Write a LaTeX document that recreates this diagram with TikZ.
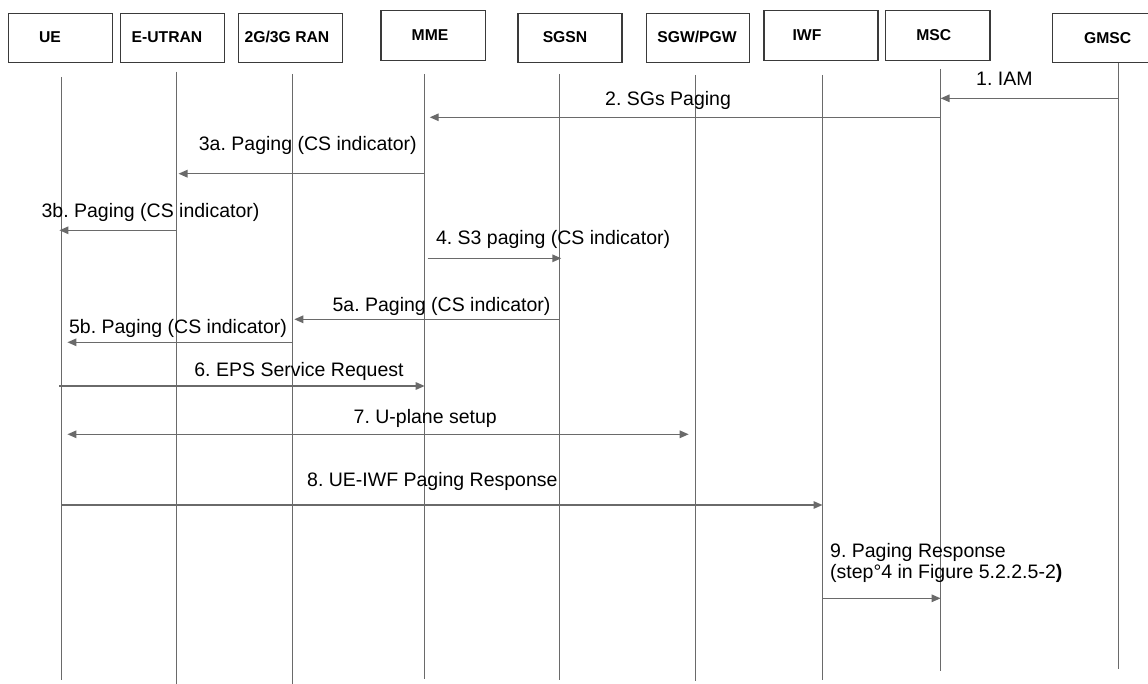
\documentclass[tikz,border=0pt]{standalone}
\usepackage{fontspec}
\setmainfont{Liberation Sans}
\usetikzlibrary{arrows.meta}
\frenchspacing

\definecolor{linegray}{HTML}{6A6A6A}
\definecolor{boxline}{HTML}{3A3A3A}

\tikzset{
  entity/.style={draw=boxline, line width=1.2pt, fill=white, inner sep=0pt},
  entitytext/.style={inner sep=0pt, anchor=base, font=\bfseries\fontsize{15.7}{18}\selectfont},
  lifeline/.style={draw=linegray, line width=1.3pt},
  msg/.style={draw=linegray, line width=1.4pt, -{Triangle[length=9pt,width=7.5pt]}, color=linegray},
  msgboth/.style={draw=linegray, line width=1.4pt, {Triangle[length=9pt,width=7.5pt]}-{Triangle[length=9pt,width=7.5pt]}, color=linegray},
  msgtext/.style={inner sep=0pt, anchor=base west, font=\fontsize{19.5}{21}\selectfont, text=black},
}

\begin{document}
\begin{tikzpicture}[x=1pt, y=-1pt]
\useasboundingbox (0,0) rectangle (1148,684);

% entity boxes
\node[entity, minimum width=104.4pt, minimum height=49.4pt] (ueB)   at (60.3,38) {};
\node[entity, minimum width=104pt,   minimum height=49.4pt] (eutB)  at (172.7,38) {};
\node[entity, minimum width=104.3pt, minimum height=49.4pt] (ranB)  at (290.5,38) {};
\node[entity, minimum width=104.4pt, minimum height=50pt]   (mmeB)  at (433.2,35.7) {};
\node[entity, minimum width=104pt,   minimum height=49.4pt] (sgsnB) at (570,38) {};
\node[entity, minimum width=103.5pt, minimum height=49.4pt] (gwB)   at (698,38) {};
\node[entity, minimum width=114pt,   minimum height=50pt]   (iwfB)  at (821,35.7) {};
\node[entity, minimum width=104.5pt, minimum height=50pt]   (mscB)  at (937.8,35.7) {};
\node[entity, minimum width=100pt,   minimum height=49.4pt] (gmscB) at (1102.7,38) {};

\node[entitytext] (ueL)   at (50,42.7)    {UE};
\node[entitytext] (eutL)  at (167,43)     {E-UTRAN};
\node[entitytext] (ranL)  at (287,43)     {2G/3G RAN};
\node[entitytext] (mmeL)  at (430,40.7)   {MME};
\node[entitytext] (sgsnL) at (565,43)     {SGSN};
\node[entitytext] (gwL)   at (697,43)     {SGW/PGW};
\node[entitytext] (iwfL)  at (807,40.7)   {IWF};
\node[entitytext] (mscL)  at (933.7,40.7) {MSC};
\node[entitytext] (gmscL) at (1107.7,43.3) {GMSC};

% lifelines
\coordinate (ue)   at (61.4,77);    \coordinate (ueE)   at (61.4,680);
\coordinate (eut)  at (176.5,71.7); \coordinate (eutE)  at (176.5,684);
\coordinate (ran)  at (292.3,74);   \coordinate (ranE)  at (292.3,684);
\coordinate (mme)  at (424.7,74);   \coordinate (mmeE)  at (424.7,679);
\coordinate (sgsn) at (559.3,74);   \coordinate (sgsnE) at (559.3,680);
\coordinate (gw)   at (695.7,75);   \coordinate (gwE)   at (695.7,681);
\coordinate (iwf)  at (822.5,75);   \coordinate (iwfE)  at (822.5,680);
\coordinate (msc)  at (940.6,69);   \coordinate (mscE)  at (940.6,671);
\coordinate (gmsc) at (1118.7,62.7); \coordinate (gmscE) at (1118.7,669);

\foreach \l in {ue,eut,ran,mme,sgsn,gw,iwf,msc,gmsc}
  \draw[lifeline] (\l) -- (\l E);

% message rows
\coordinate (m1)  at (0,98.3);
\coordinate (m2)  at (0,117.3);
\coordinate (m3a) at (0,173.7);
\coordinate (m3b) at (0,230.3);
\coordinate (m4)  at (0,258.3);
\coordinate (m5a) at (0,319.3);
\coordinate (m5b) at (0,342.3);
\coordinate (m6)  at (0,386);
\coordinate (m7)  at (0,434.3);
\coordinate (m8)  at (0,505);
\coordinate (m9)  at (0,598.3);

% messages
\draw[msg] (gmsc |- m1) -- (msc |- m1);
\draw[msg] (msc |- m2) -- ([xshift=5pt]mme |- m2);
\draw[msg] (mme |- m3a) -- ([xshift=2pt]eut |- m3a);
\draw[msg] (eut |- m3b) -- ([xshift=-2pt]ue |- m3b);
\draw[msg] ([xshift=3pt]mme |- m4) -- ([xshift=2pt]sgsn |- m4);
\draw[msg] (sgsn |- m5a) -- ([xshift=2pt]ran |- m5a);
\draw[msg] (ran |- m5b) -- ([xshift=6pt]ue |- m5b);
\draw[msg] ([xshift=-2pt]ue |- m6) -- (mme |- m6);
\draw[msgboth] ([xshift=6pt]ue |- m7) -- ([xshift=-7pt]gw |- m7);
\draw[msg] (ue |- m8) -- (iwf |- m8);
\draw[msg] (iwf |- m9) -- (msc |- m9);

% message labels
\node[msgtext] (t1)  at (976,86)      {1. IAM};
\node[msgtext] (t2)  at (605,106)     {2. SGs Paging};
\node[msgtext] (t3a) at (198.7,150.7) {3a. Paging (CS indicator)};
\node[msgtext] (t3b) at (41.4,217.3)  {3b. Paging (CS indicator)};
\node[msgtext] (t4)  at (435.8,245)   {4. S3 paging (CS indicator)};
\node[msgtext] (t5a) at (332.4,311.7) {5a. Paging (CS indicator)};
\node[msgtext] (t5b) at (68.9,333.3)  {5b. Paging (CS indicator)};
\node[msgtext] (t6)  at (194.2,376.7) {6. EPS Service Request};
\node[msgtext] (t7)  at (353.5,423.3) {7. U-plane setup};
\node[msgtext] (t8)  at (307,486)     {8. UE-IWF Paging Response};
\node[msgtext] (t9a) at (830,557.3)   {9. Paging Response};
\node[msgtext] (t9b) at (830,578.3)   {(step°4 in Figure 5.2.2.5-2\textbf{)}};
\end{tikzpicture}
\end{document}
